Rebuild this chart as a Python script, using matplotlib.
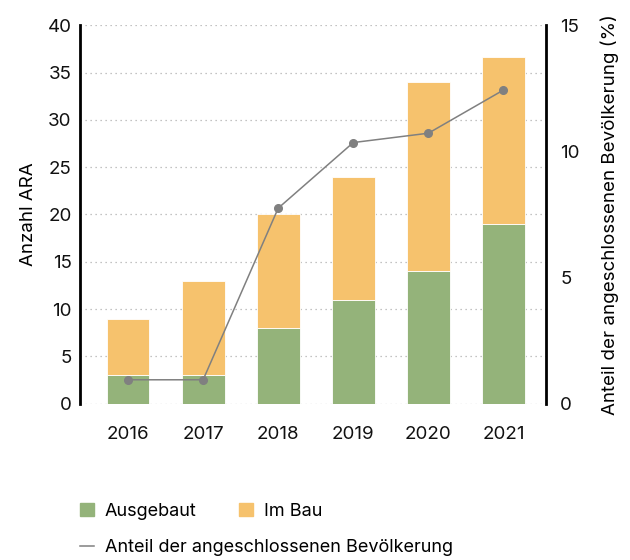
import matplotlib.pyplot as plt
from matplotlib.patches import Patch
from matplotlib.lines import Line2D
import numpy as np

plt.rcParams['font.family'] = ['Inter', 'DejaVu Sans']

# ARA counts per year and population share connected (%)
jahre = ['2016', '2017', '2018', '2019', '2020', '2021']
ausgebaut = [3, 3, 8, 11, 14, 19]
im_bau = [6, 10, 12, 13, 20, 17.6]
anteil = [0.95, 0.95, 7.75, 10.35, 10.72, 12.43]

gruen = '#94b37a'
orange = '#f6c26d'
grau = '#808080'

fig = plt.figure(figsize=(6.3, 5.6), dpi=100)
ax1 = fig.add_axes([0.127, 0.279, 0.74, 0.676])
ax2 = ax1.twinx()

x = np.arange(len(jahre))
ax1.bar(x, ausgebaut, width=0.57, color=gruen, edgecolor='white', linewidth=0.6, zorder=2)
ax1.bar(x, im_bau, width=0.57, bottom=ausgebaut, color=orange, edgecolor='white',
        linewidth=0.6, zorder=2)

ax2.plot(x, anteil, color=grau, linewidth=1.1, marker='o', markersize=5.5, zorder=3)

ax1.set_xlim(-0.64, 5.57)
ax1.set_ylim(0, 40)
ax2.set_ylim(0, 15)
ax1.set_yticks(range(0, 41, 5))
ax2.set_yticks([0, 5, 10, 15])
ax1.set_xticks(x)
ax1.set_xticklabels(jahre)

ax1.yaxis.grid(True, linestyle=(0, (1, 3)), color='#b0b0b0', linewidth=0.9, zorder=0)
ax1.set_axisbelow(True)

for ax in (ax1, ax2):
    ax.spines['top'].set_visible(False)
    ax.spines['bottom'].set_visible(False)
    ax.tick_params(length=0, labelsize=13.5, colors='#111111')
ax1.spines['left'].set_linewidth(2)
ax1.spines['right'].set_visible(False)
ax2.spines['left'].set_visible(False)
ax2.spines['right'].set_linewidth(2)
ax1.tick_params(axis='x', pad=16)
ax1.tick_params(axis='y', pad=6)
ax2.tick_params(axis='y', pad=10)

ax1.set_ylabel('Anzahl ARA', fontsize=13.5, labelpad=8)
ax2.set_ylabel('Anteil der angeschlossenen Bevölkerung (%)', fontsize=13.5, labelpad=15)

# legend: bars in first row, line in second
h1 = [Patch(color=gruen), Patch(color=orange)]
fig.legend(h1, ['Ausgebaut', 'Im Bau'], ncol=2, loc='center left',
           bbox_to_anchor=(0.127, 0.0875), frameon=False, fontsize=13,
           handlelength=0.75, handleheight=0.75, handletextpad=0.6,
           columnspacing=2.4, borderaxespad=0, borderpad=0)
h2 = [Line2D([0], [0], color=grau, linewidth=1.1)]
fig.legend(h2, ['Anteil der angeschlossenen Bevölkerung'], loc='center left',
           bbox_to_anchor=(0.127, 0.022), frameon=False, fontsize=13,
           handlelength=0.8, handletextpad=0.6, borderaxespad=0, borderpad=0)

fig.savefig('out.png', dpi=100)
